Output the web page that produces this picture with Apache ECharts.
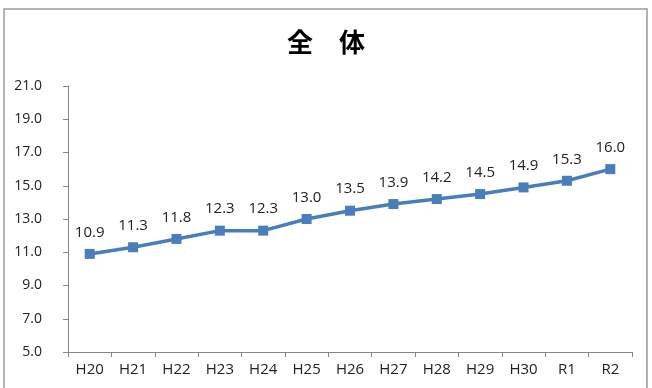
<!DOCTYPE html>
<html>
<head>
<meta charset="utf-8">
<script src="https://cdn.jsdelivr.net/npm/echarts@6/dist/echarts.min.js"></script>
<style>
  html, body { margin: 0; padding: 0; background: #fff; }
  #chart { width: 652px; height: 388px; }
</style>
</head>
<body>
<div id="chart"></div>
<script>
// 年度
var years = ['H20', 'H21', 'H22', 'H23', 'H24', 'H25', 'H26', 'H27', 'H28', 'H29', 'H30', 'R1', 'R2'];
// 全体の値
var values = [10.9, 11.3, 11.8, 12.3, 12.3, 13.0, 13.5, 13.9, 14.2, 14.5, 14.9, 15.3, 16.0];

var myChart = echarts.init(document.getElementById('chart'));

var option = {
  animation: false,
  title: {
    text: '全　体',
    left: 'center',
    top: 24,
    textStyle: {
      fontFamily: 'Noto Sans CJK JP',
      fontSize: 26,
      fontWeight: 'bold',
      color: '#000'
    }
  },
  graphic: [{
    type: 'rect',
    shape: { x: 4, y: 9, width: 643, height: 400 },
    style: { fill: 'none', stroke: '#9a9a9a', lineWidth: 1.5 },
    silent: true
  }],
  grid: {
    left: 68,
    right: 20,
    top: 86,
    bottom: 36
  },
  xAxis: {
    type: 'category',
    data: years,
    boundaryGap: true,
    axisLine: { lineStyle: { color: '#868686', width: 1 } },
    axisTick: { show: true, length: 5, lineStyle: { color: '#868686' } },
    axisLabel: {
      color: '#222',
      fontSize: 15,
      fontFamily: 'Open Sans',
      margin: 10
    }
  },
  yAxis: {
    type: 'value',
    min: 5,
    max: 21,
    interval: 2,
    axisLine: { show: true, lineStyle: { color: '#868686', width: 1 } },
    axisTick: { show: true, length: 5, lineStyle: { color: '#868686' } },
    splitLine: { show: false },
    axisLabel: {
      color: '#222',
      fontSize: 14,
      fontFamily: 'Open Sans',
      margin: 26,
      formatter: function (v) { return v.toFixed(1); }
    }
  },
  series: [{
    type: 'line',
    data: values,
    symbol: 'rect',
    symbolSize: 10,
    lineStyle: { color: '#4a7ebb', width: 3.5 },
    itemStyle: { color: '#4a7ebb' },
    label: {
      show: true,
      position: 'top',
      distance: 9,
      color: '#222',
      fontSize: 15,
      fontFamily: 'Open Sans',
      formatter: function (p) { return p.value.toFixed(1); }
    }
  }]
};

myChart.setOption(option);
</script>
</body>
</html>
